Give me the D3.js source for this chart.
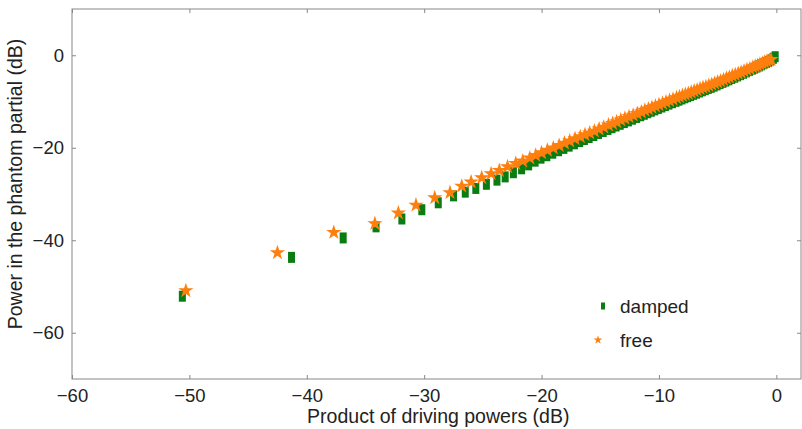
<!DOCTYPE html>
<html>
<head>
<meta charset="utf-8">
<script src="https://cdn.jsdelivr.net/npm/d3@7"></script>
<style>
  body { margin: 0; background: #fff; }
  text { font-family: "Liberation Sans", Arial, sans-serif; fill: #222; }
</style>
</head>
<body>
<div id="chart"></div>
<script>
// values
var freeX = [-50.3, -42.5, -37.7, -34.2, -32.2, -30.7, -29.1, -27.8, -26.8, -26.0, -25.1, -24.3, -23.6, -22.9, -22.2,
    -21.6, -21.0, -20.5, -20.0, -19.5, -19.0, -18.5, -18.05, -17.6, -17.15, -16.7, -16.3, -15.9, -15.5, -15.1,
    -14.7, -14.3, -13.95, -13.6, -13.25, -12.9, -12.55, -12.2, -11.85, -11.5, -11.2, -10.9, -10.6, -10.3, -10.0,
    -9.7, -9.4, -9.1, -8.8, -8.5, -8.25, -8.0, -7.75, -7.5, -7.25, -7.0, -6.75, -6.5, -6.25, -6.0,
    -5.75, -5.5, -5.25, -5.0, -4.75, -4.5, -4.25, -4.0, -3.75, -3.5, -3.25, -3.0, -2.75, -2.5, -2.25,
    -2.0, -1.8, -1.6, -1.4, -1.2, -1.0, -0.8, -0.6, -0.45];
var freeY = [-50.9, -42.7, -38.3, -36.4, -34.1, -32.4, -30.8, -29.7, -28.3, -27.4, -26.5, -25.6, -24.9, -24.1, -23.4,
    -22.85, -22.2, -21.65, -21.1, -20.55, -20.05, -19.5, -19.0, -18.55, -18.05, -17.6, -17.2, -16.8, -16.4, -15.95,
    -15.55, -15.1, -14.75, -14.4, -14.0, -13.65, -13.3, -12.95, -12.6, -12.25, -11.9, -11.6, -11.3, -11.0, -10.7,
    -10.4, -10.1, -9.8, -9.5, -9.2, -8.95, -8.7, -8.5, -8.25, -8.0, -7.75, -7.5, -7.25, -7.0, -6.8,
    -6.55, -6.3, -6.05, -5.8, -5.55, -5.3, -5.0, -4.75, -4.45, -4.2, -3.95, -3.7, -3.4, -3.15, -2.9,
    -2.6, -2.4, -2.2, -1.95, -1.75, -1.5, -1.3, -1.1, -0.9];

var dampedX = [-50.6, -41.3, -36.9, -34.1, -31.9, -30.2, -28.8, -27.5, -26.5, -25.6, -24.7, -23.8, -23.1, -22.4,
    -21.7, -21.1, -20.55, -20.05, -19.55, -19.05, -18.55, -18.1, -17.65, -17.2, -16.75, -16.35, -15.95, -15.55, -15.15,
    -14.75, -14.35, -14.0, -13.65, -13.3, -12.95, -12.6, -12.25, -11.9, -11.55, -11.25, -10.95, -10.65, -10.35, -10.05,
    -9.75, -9.45, -9.15, -8.85, -8.55, -8.3, -8.05, -7.8, -7.55, -7.3, -7.05, -6.8, -6.55, -6.3, -6.05,
    -5.8, -5.55, -5.3, -5.05, -4.8, -4.55, -4.3, -4.05, -3.8, -3.55, -3.3, -3.05, -2.8, -2.55, -2.3,
    -2.05, -1.85, -1.65, -1.45, -1.25, -1.05, -0.85, -0.65, -0.45, -0.25, -0.1];
var dampedY = [-52.1, -43.7, -39.5, -37.1, -35.4, -33.4, -31.9, -30.4, -29.6, -28.8, -27.9, -27.0, -26.3, -25.4,
    -24.55, -23.7, -22.9, -22.25, -21.73, -21.18, -20.64, -20.14, -19.65, -19.15, -18.66, -18.22, -17.79, -17.35, -16.91,
    -16.48, -16.05, -15.67, -15.3, -14.93, -14.56, -14.19, -13.82, -13.45, -13.08, -12.76, -12.43, -12.11, -11.81, -11.5,
    -11.19, -10.88, -10.57, -10.26, -9.96, -9.71, -9.45, -9.2, -8.96, -8.7, -8.45, -8.2, -7.94, -7.69, -7.44,
    -7.18, -6.94, -6.68, -6.41, -6.13, -5.86, -5.59, -5.31, -5.03, -4.75, -4.47, -4.19, -3.9, -3.6, -3.32,
    -3.02, -2.79, -2.55, -2.3, -2.06, -1.8, -1.56, -1.31, -1.0, -0.66, -0.32];

var xTicks = [-60, -50, -40, -30, -20, -10, 0];
var yTicks = [-60, -40, -20, 0];
var seriesNames = ["damped", "free"];

var margin = { top: 9, right: 1, bottom: 50, left: 72 },
    width = 802 - margin.left - margin.right,
    height = 429 - margin.top - margin.bottom;

var x = d3.scaleLinear().domain([-60, 2.1]).range([0, width]);
var y = d3.scaleLinear().domain([-70, 10]).range([height, 0]);

var svg = d3.select("#chart").append("svg")
    .attr("width", 802)
    .attr("height", 429)
    .append("g")
    .attr("transform", "translate(" + margin.left + "," + margin.top + ")");

var green = "#0a7d12", orange = "#ff7f0e";

var damped = dampedX.map(function (d, i) { return { x: d, y: dampedY[i] }; });
var free = freeX.map(function (d, i) { return { x: d, y: freeY[i] }; });

// damped first so the stars sit on top
svg.selectAll(".damped")
    .data(damped)
    .enter().append("rect")
    .attr("class", "damped")
    .attr("x", function (d) { return x(d.x) - 3.5; })
    .attr("y", function (d) { return y(d.y) - 5.5; })
    .attr("width", 7)
    .attr("height", 11)
    .style("fill", green);

var star = d3.symbol().type(d3.symbolStar).size(72);
svg.selectAll(".free")
    .data(free)
    .enter().append("path")
    .attr("class", "free")
    .attr("transform", function (d) { return "translate(" + x(d.x) + "," + y(d.y) + ")"; })
    .attr("d", star)
    .style("fill", orange);

// frame
svg.append("rect")
    .attr("width", width)
    .attr("height", height)
    .style("fill", "none")
    .style("stroke", "#888")
    .style("stroke-width", 1);

// axes with inward ticks
var fmt = function (d) { return d < 0 ? "\u2212" + Math.abs(d) : d; };
svg.append("g")
    .attr("transform", "translate(0," + height + ")")
    .call(d3.axisBottom(x).tickValues(xTicks).tickSizeInner(-4).tickSizeOuter(0).tickPadding(10).tickFormat(fmt));
svg.append("g")
    .call(d3.axisLeft(y).tickValues(yTicks).tickSizeInner(-4).tickSizeOuter(0).tickPadding(8).tickFormat(fmt));
svg.append("g")
    .call(d3.axisTop(x).tickValues(xTicks).tickSizeInner(-4).tickSizeOuter(0).tickFormat(""));
svg.append("g")
    .attr("transform", "translate(" + width + ",0)")
    .call(d3.axisRight(y).tickValues(yTicks).tickSizeInner(-4).tickSizeOuter(0).tickFormat(""));

svg.selectAll(".domain").remove();
svg.selectAll(".tick line").style("stroke", "#888");
svg.selectAll(".tick text").style("font-size", "18.5px").style("fill", "#222")
    .style("font-family", "Liberation Sans, Arial, sans-serif");

// axis titles
svg.append("text")
    .attr("x", x(-28.8))
    .attr("y", height + 44)
    .attr("text-anchor", "middle")
    .style("font-size", "19.5px")
    .text("Product of driving powers (dB)");

svg.append("text")
    .attr("transform", "translate(" + (-50) + "," + (height / 2 - 10) + ") rotate(-90)")
    .attr("text-anchor", "middle")
    .style("font-size", "19.5px")
    .text("Power in the phantom  partial (dB)");

// legend
var legend = svg.append("g").attr("transform", "translate(" + (width - 205) + "," + (height - 73) + ")");
legend.append("rect")
    .attr("x", 5).attr("y", -3.5)
    .attr("width", 4).attr("height", 7)
    .style("fill", green);
legend.append("text")
    .attr("x", 24).attr("y", 6.5)
    .style("font-size", "19px")
    .text(seriesNames[0]);
legend.append("path")
    .attr("transform", "translate(2,34)")
    .attr("d", d3.symbol().type(d3.symbolStar).size(24))
    .style("fill", orange);
legend.append("text")
    .attr("x", 24).attr("y", 40.5)
    .style("font-size", "19px")
    .text(seriesNames[1]);
</script>
</body>
</html>
